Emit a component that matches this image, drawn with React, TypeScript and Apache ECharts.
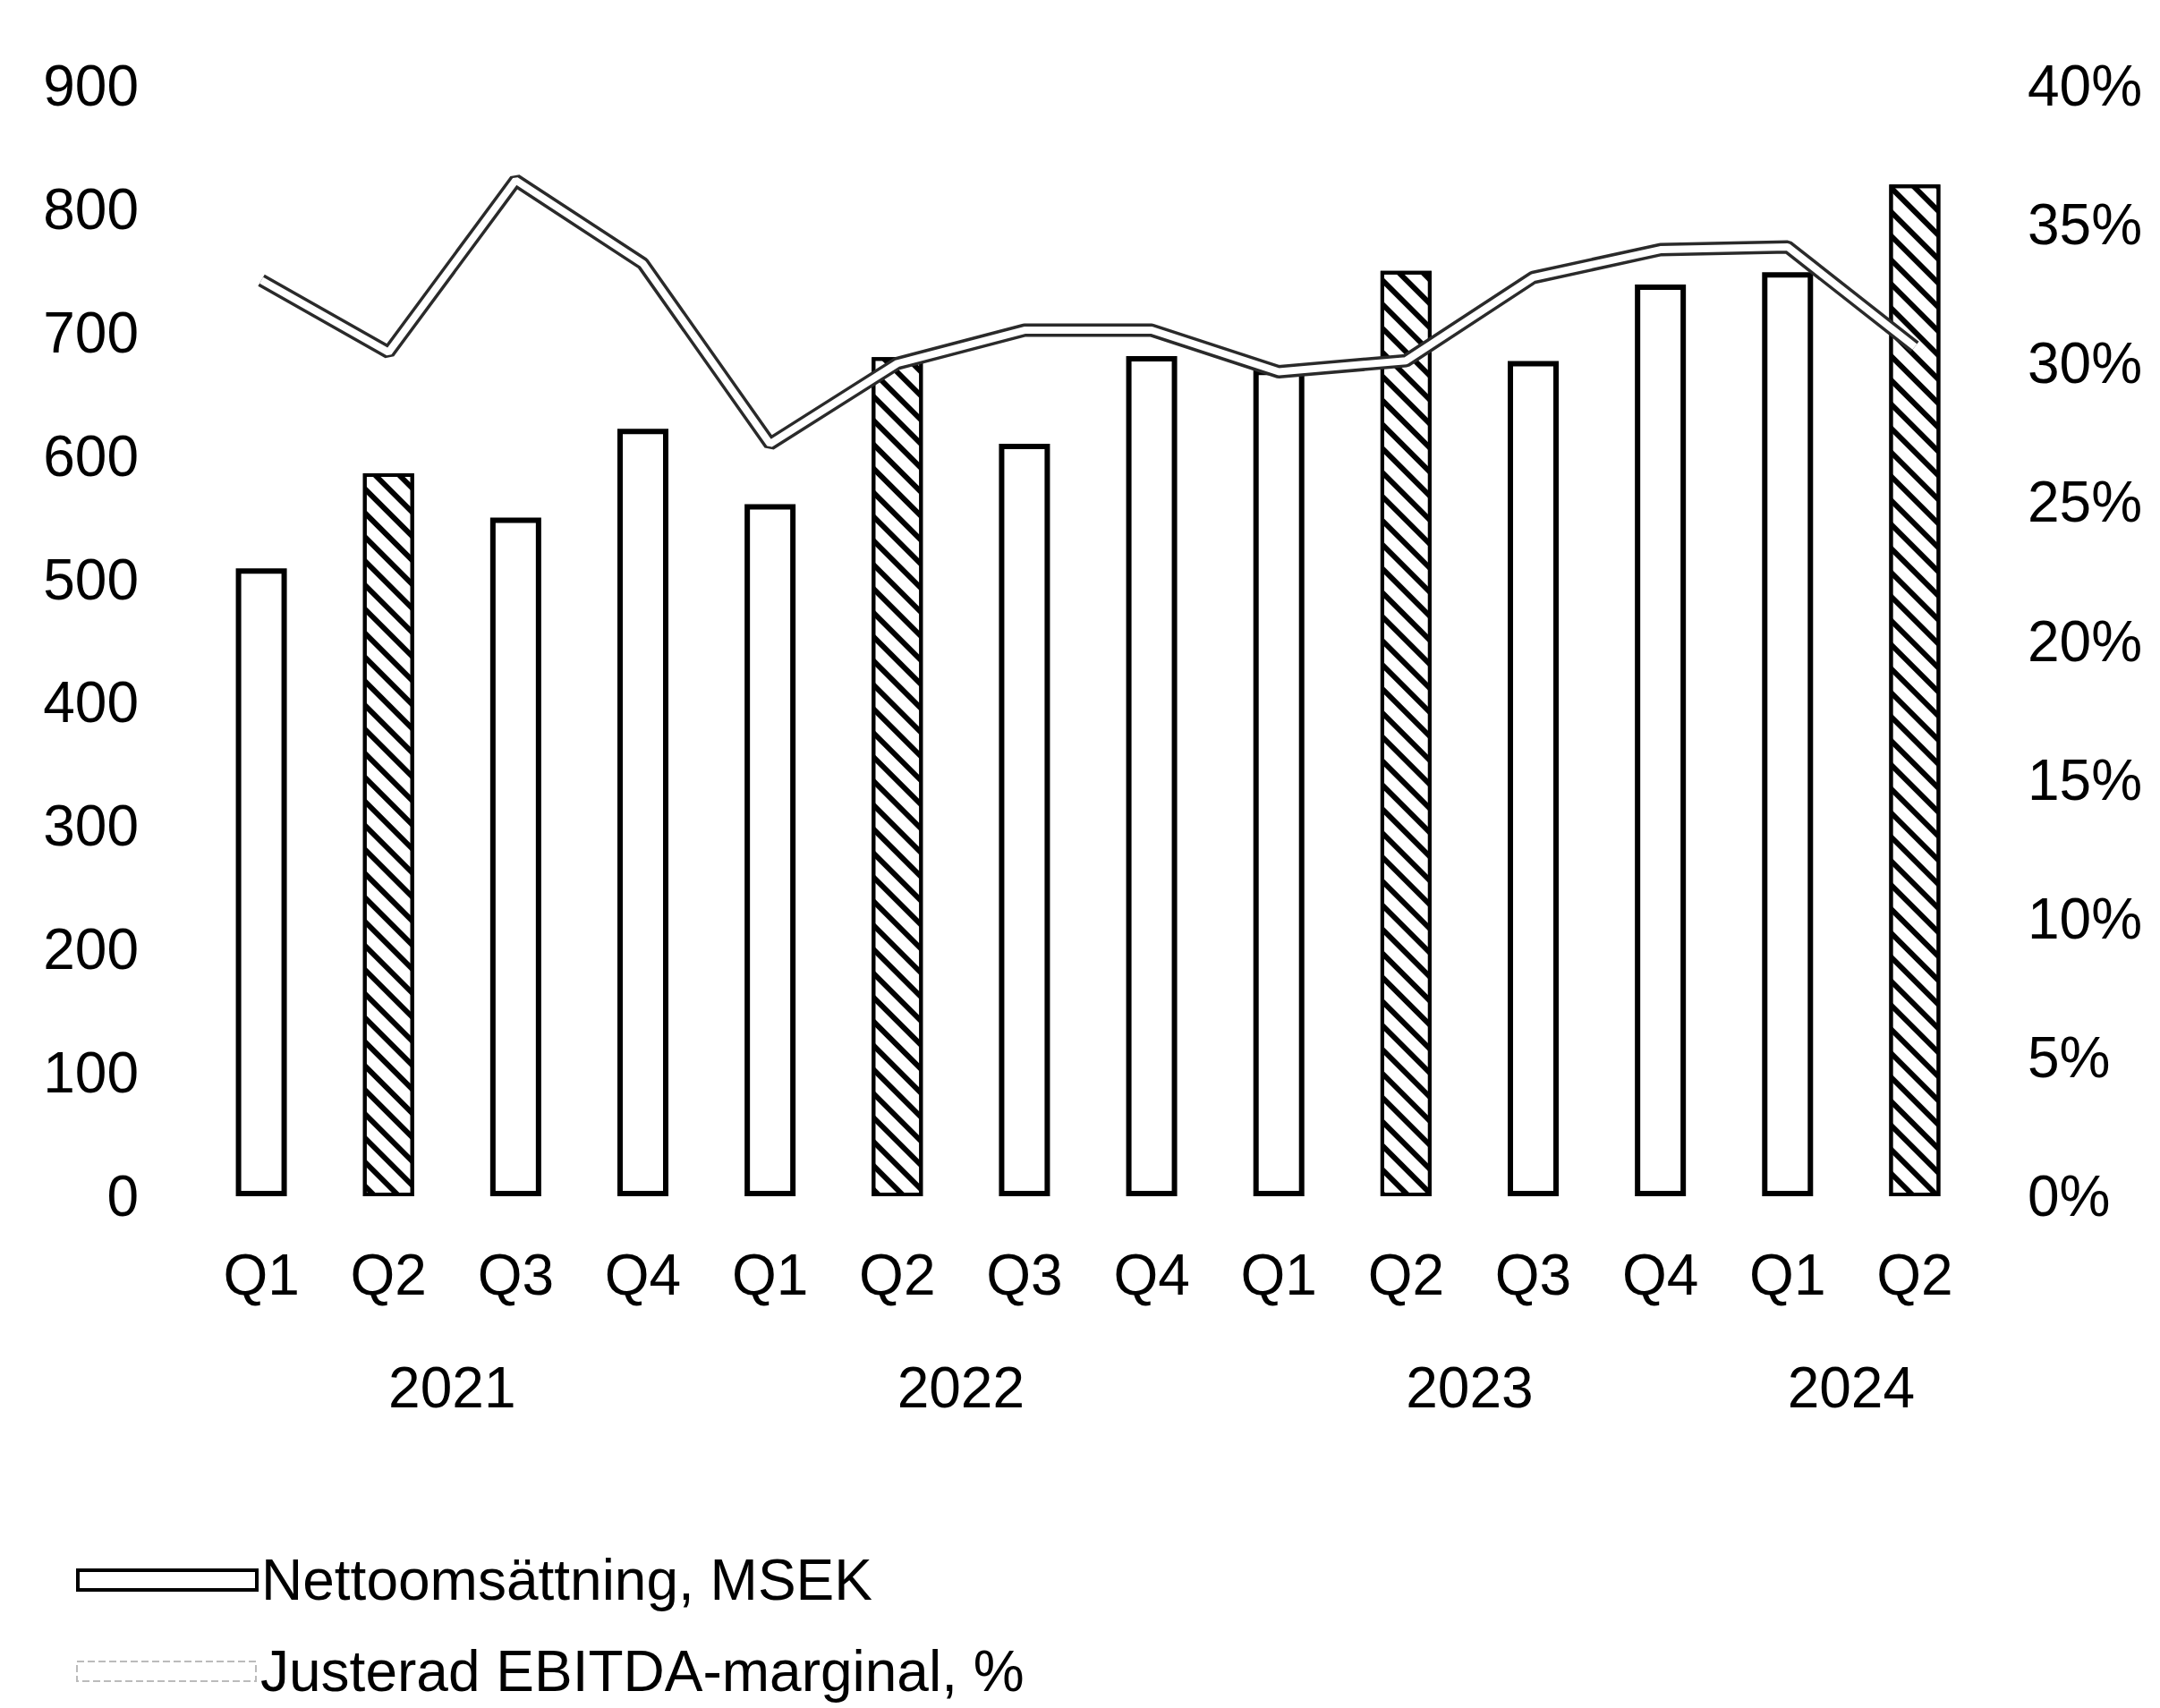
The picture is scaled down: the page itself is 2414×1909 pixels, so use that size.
import React, { useEffect, useRef } from "react";
import * as echarts from "echarts";

const quarters = ["Q1", "Q2", "Q3", "Q4", "Q1", "Q2", "Q3", "Q4", "Q1", "Q2", "Q3", "Q4", "Q1", "Q2"];
const yearOf = ["2021", "2021", "2021", "2021", "2022", "2022", "2022", "2022", "2023", "2023", "2023", "2023", "2024", "2024"];
const netSales = [509, 586, 550, 622, 561, 680, 610, 681, 670, 750, 677, 739, 749, 820];
const ebitdaMargin = [33.0, 30.4, 36.6, 33.6, 27.1, 30.0, 31.2, 31.2, 29.7, 30.1, 33.1, 34.1, 34.2, 30.6];
const hatchedQuarter = "Q2";
const leftTicks = { min: 0, max: 900, interval: 100 };
const rightTicks = { min: 0, max: 40, interval: 5 };
const salesName = "Nettoomsättning, MSEK";
const marginName = "Justerad EBITDA-marginal, %";

const FONT = "'Liberation Sans', Arial, Helvetica, sans-serif";

export default function App() {
  const ref = useRef<HTMLDivElement>(null);

  useEffect(() => {
    document.body.style.margin = "0";
    document.body.style.background = "#fff";
    if (!ref.current) return;
    const chart = echarts.init(ref.current, undefined, { renderer: "svg" });

    const years: string[] = [];
    const yearCenters: number[] = [];
    yearOf.forEach((y) => {
      if (years.indexOf(y) < 0) years.push(y);
    });
    years.forEach((y) => {
      const first = yearOf.indexOf(y);
      const last = yearOf.lastIndexOf(y);
      yearCenters.push((first + last) / 2);
    });

    const hatchDecal = {
      symbol: "rect",
      symbolSize: 1,
      dashArrayX: [1, 0],
      dashArrayY: [6, 13],
      rotation: Math.PI / 4,
      color: "#000",
      backgroundColor: "#fff",
    };

    const barData = netSales.map((v, i) =>
      quarters[i] === hatchedQuarter
        ? { value: v, itemStyle: { decal: hatchDecal, color: "#fff", borderColor: "#000", borderWidth: 4 } }
        : { value: v }
    );

    const labelStyle = { color: "#000", fontFamily: FONT, fontSize: 64 };

    const legendBase = {
      orient: "horizontal",
      left: 85,
      padding: 0,
      itemWidth: 200,
      itemHeight: 22,
      textStyle: { ...labelStyle },
      selectedMode: false,
    };

    chart.setOption({
      animation: false,
      backgroundColor: "#fff",
      grid: { left: 221, right: 203, top: 96, bottom: 1909 - 1337, containLabel: false },
      legend: [
        {
          ...legendBase,
          top: 1734,
          data: [{ name: salesName, icon: "rect", itemStyle: { color: "#fff", borderColor: "#000", borderWidth: 4 } }],
        },
        {
          ...legendBase,
          top: 1836,
          data: [
            {
              name: marginName,
              icon: "rect",
              itemStyle: { color: "#fff", borderColor: "#bbb", borderWidth: 2, borderType: "dashed" },
            },
          ],
        },
      ],
      xAxis: [
        {
          type: "category",
          data: quarters,
          axisLine: { show: false },
          axisTick: { show: false },
          axisLabel: { ...labelStyle, margin: 56, interval: 0 },
        },
        {
          type: "value",
          min: -0.5,
          max: 13.5,
          position: "bottom",
          axisLine: { show: false },
          axisTick: { show: false },
          splitLine: { show: false },
          axisLabel: {
            ...labelStyle,
            margin: 182,
            customValues: yearCenters,
            formatter: (v: number) => {
              const k = yearCenters.findIndex((c) => Math.abs(c - v) < 1e-6);
              return k >= 0 ? years[k] : "";
            },
          },
        },
      ],
      yAxis: [
        {
          type: "value",
          ...leftTicks,
          axisLine: { show: false },
          axisTick: { show: false },
          splitLine: { show: false },
          axisLabel: { ...labelStyle, margin: 66 },
        },
        {
          type: "value",
          ...rightTicks,
          position: "right",
          axisLine: { show: false },
          axisTick: { show: false },
          splitLine: { show: false },
          axisLabel: { ...labelStyle, margin: 55, align: "left", formatter: "{value}%" },
        },
      ],
      series: [
        {
          name: salesName,
          type: "bar",
          barWidth: 57,
          data: barData,
          itemStyle: { color: "#fff", borderColor: "#000", borderWidth: 6 },
        },
        {
          name: marginName,
          type: "line",
          yAxisIndex: 1,
          data: ebitdaMargin,
          symbol: "none",
          lineStyle: { color: "#2a2a2a", width: 15 },
          z: 3,
        },
        {
          name: "inner",
          type: "line",
          yAxisIndex: 1,
          data: ebitdaMargin,
          symbol: "none",
          lineStyle: { color: "#fff", width: 8 },
          z: 4,
        },
      ],
    });

    return () => chart.dispose();
  }, []);

  return <div ref={ref} style={{ width: 2414, height: 1909 }} />;
}
